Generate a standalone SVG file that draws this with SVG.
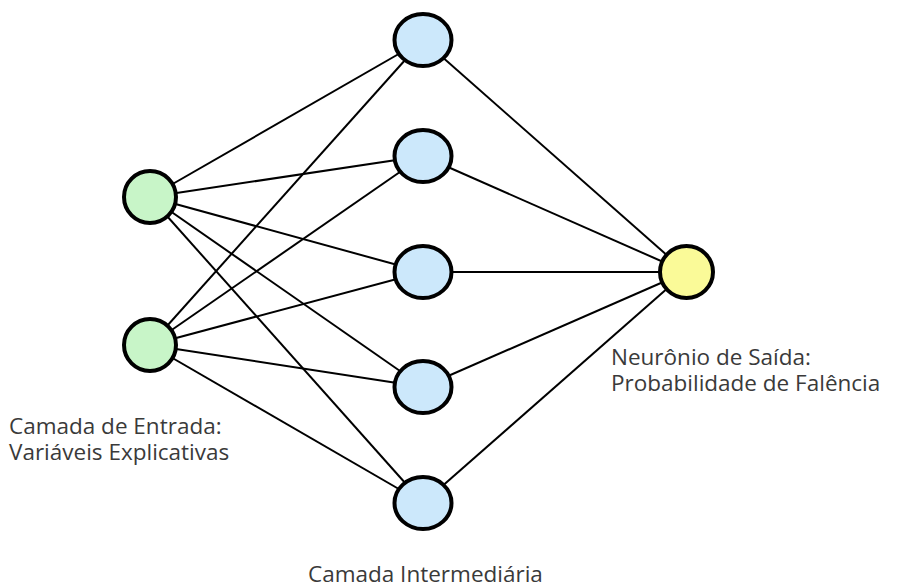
<svg xmlns="http://www.w3.org/2000/svg" width="901" height="584" viewBox="0 0 901 584">
  <style>
    .edge { stroke: #000; stroke-width: 2; fill: none; }
    .node { stroke: #000; stroke-width: 4; }
    .in { fill: #c8f5c8; }
    .hid { fill: #cce8fb; }
    .out { fill: #fafa98; }
    .lbl { font-family: "Open Sans", "Noto Sans", sans-serif; font-size: 22.5px; fill: #3a3a3a; }
  </style>
  <rect width="901" height="584" fill="#fff"/>
  <g id="connectors">
    <!-- input to hidden -->
    <line class="edge" x1="150" y1="197" x2="423" y2="40"/>
    <line class="edge" x1="150" y1="197" x2="423" y2="156"/>
    <line class="edge" x1="150" y1="197" x2="423" y2="272"/>
    <line class="edge" x1="150" y1="197" x2="423" y2="387"/>
    <line class="edge" x1="150" y1="197" x2="423" y2="503"/>
    <line class="edge" x1="150" y1="345" x2="423" y2="40"/>
    <line class="edge" x1="150" y1="345" x2="423" y2="156"/>
    <line class="edge" x1="150" y1="345" x2="423" y2="272"/>
    <line class="edge" x1="150" y1="345" x2="423" y2="387"/>
    <line class="edge" x1="150" y1="345" x2="423" y2="503"/>
    <!-- hidden to output -->
    <line class="edge" x1="423" y1="40" x2="686" y2="272"/>
    <line class="edge" x1="423" y1="156" x2="686" y2="272"/>
    <line class="edge" x1="423" y1="272" x2="686" y2="272"/>
    <line class="edge" x1="423" y1="387" x2="686" y2="272"/>
    <line class="edge" x1="423" y1="503" x2="686" y2="272"/>
  </g>
  <g id="input1"><ellipse class="node in" cx="150" cy="197" rx="26" ry="26"/></g>
  <g id="input2"><ellipse class="node in" cx="150" cy="345" rx="26" ry="26"/></g>
  <g id="hidden1"><ellipse class="node hid" cx="423" cy="40" rx="28.5" ry="26"/></g>
  <g id="hidden2"><ellipse class="node hid" cx="423" cy="156" rx="28.5" ry="26"/></g>
  <g id="hidden3"><ellipse class="node hid" cx="423" cy="272" rx="28.5" ry="26"/></g>
  <g id="hidden4"><ellipse class="node hid" cx="423" cy="387" rx="28.5" ry="26"/></g>
  <g id="hidden5"><ellipse class="node hid" cx="423" cy="503" rx="28.5" ry="26"/></g>
  <g id="output"><ellipse class="node out" cx="686.5" cy="272" rx="26.5" ry="26"/></g>
  <g id="labels">
    <text class="lbl" x="9" y="434">Camada de Entrada:</text>
    <text class="lbl" x="9" y="460">Variáveis Explicativas</text>
    <text class="lbl" x="611" y="365">Neurônio de Saída:</text>
    <text class="lbl" x="611" y="391">Probabilidade de Falência</text>
    <text class="lbl" x="308" y="582">Camada Intermediária</text>
  </g>
</svg>
